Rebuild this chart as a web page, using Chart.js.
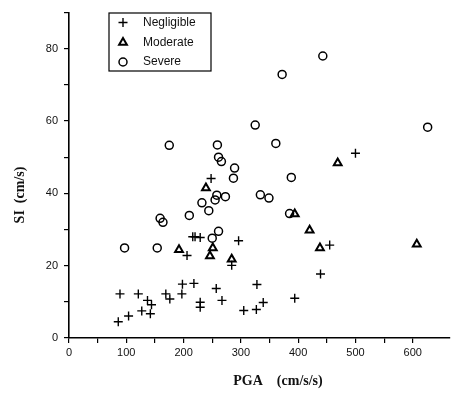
<!DOCTYPE html>
<html>
<head>
<meta charset="utf-8">
<script src="https://cdn.jsdelivr.net/npm/chart.js@4/dist/chart.umd.min.js"></script>
<style>
  html, body { margin: 0; padding: 0; background: #fff; }
  #wrap { width: 460px; height: 393px; }
</style>
</head>
<body>
<div id="wrap"><canvas id="siChart" width="460" height="393"></canvas></div>
<script>
// damage classes
const seriesNames = ['Negligible', 'Moderate', 'Severe'];

// PGA (cm/s/s) and SI (cm/s)
const negligiblePGA = [86, 89, 104, 121, 127, 137, 142, 144, 169, 176, 197, 198, 206, 216, 218, 220, 229, 229, 229, 248, 257, 267, 284, 296, 305, 327, 328, 339, 394, 439, 455, 500];
const negligibleSI  = [4.5, 12.2, 6.1, 12.2, 7.5, 10.4, 6.7, 9.2, 12.2, 10.8, 12.2, 14.9, 22.8, 28.0, 15.1, 28.0, 27.8, 9.9, 8.5, 44.1, 13.7, 10.4, 20.1, 26.9, 7.6, 7.9, 14.8, 9.8, 11.0, 17.7, 25.7, 51.1];

const moderatePGA = [192, 239, 246, 251, 284, 394, 420, 438, 469, 607];
const moderateSI  = [24.4, 41.5, 22.7, 24.9, 21.8, 34.3, 29.8, 24.9, 48.4, 25.9];

const severePGA = [97, 154, 159, 164, 175, 210, 232, 244, 250, 255, 258, 273, 259, 261, 266, 261, 289, 287, 325, 334, 349, 361, 372, 385, 388, 443, 626];
const severeSI  = [24.9, 24.9, 33.1, 32.0, 53.3, 33.9, 37.4, 35.2, 27.6, 38.2, 39.5, 39.1, 53.4, 50.0, 48.8, 29.5, 47.0, 44.2, 58.9, 39.6, 38.7, 53.8, 72.9, 34.4, 44.4, 78.0, 58.3];

// axes
const xMin = 0, xMax = 665, xStep = 50, xLabelEvery = 100;
const yMin = 0, yMax = 90, yStep = 10, yLabelEvery = 20;
const xTitle = 'PGA    (cm/s/s)';
const yTitle = 'SI  (cm/s)';

function toPoints(xs, ys) {
    return xs.map((x, i) => ({ x: x, y: ys[i] }));
}

const styles = [
    { pointStyle: 'cross', pointRadius: 4.5, borderWidth: 1.4 },
    { pointStyle: 'triangle', pointRadius: 4.5, borderWidth: 2 },
    { pointStyle: 'circle', pointRadius: 4, borderWidth: 1.5 }
];

const datasets = [
    toPoints(negligiblePGA, negligibleSI),
    toPoints(moderatePGA, moderateSI),
    toPoints(severePGA, severeSI)
].map((pts, i) => ({
    label: seriesNames[i],
    data: pts,
    pointStyle: styles[i].pointStyle,
    pointRadius: styles[i].pointRadius,
    pointHoverRadius: styles[i].pointRadius,
    borderWidth: styles[i].borderWidth,
    borderColor: '#000',
    backgroundColor: 'rgba(0,0,0,0)'
}));

// boxed legend in the upper left and the serif axis titles
const paperExtras = {
    id: 'paperExtras',
    afterDraw(chart) {
        const ctx = chart.ctx;
        const area = chart.chartArea;
        ctx.save();

        // legend
        const bx = area.left + 40, by = 13, bw = 102, bh = 58;
        ctx.strokeStyle = '#000';
        ctx.lineWidth = 1.2;
        ctx.strokeRect(bx, by, bw, bh);
        ctx.font = '12px "Liberation Sans", Arial, sans-serif';
        ctx.fillStyle = '#111';
        ctx.textBaseline = 'middle';
        ctx.textAlign = 'left';
        const rows = [22.5, 42.5, 62];
        seriesNames.forEach((name, i) => {
            ctx.lineWidth = styles[i].borderWidth;
            ctx.strokeStyle = '#000';
            ctx.fillStyle = 'rgba(0,0,0,0)';
            Chart.helpers.drawPoint(ctx, {
                pointStyle: styles[i].pointStyle,
                radius: styles[i].pointRadius,
                rotation: 0,
                borderWidth: styles[i].borderWidth
            }, bx + 14, rows[i]);
            ctx.fillStyle = '#111';
            ctx.fillText(name, bx + 34, rows[i]);
        });

        // axis titles
        ctx.fillStyle = '#111';
        ctx.font = 'bold 14px "Liberation Serif", "Times New Roman", serif';
        ctx.textAlign = 'center';
        ctx.textBaseline = 'middle';
        ctx.fillText(xTitle, 278, 381);
        ctx.translate(20, 195);
        ctx.rotate(-Math.PI / 2);
        ctx.fillText(yTitle, 0, 0);
        ctx.restore();
    }
};

const tickFont = { family: '"Liberation Sans", Arial, sans-serif', size: 11 };

new Chart(document.getElementById('siChart'), {
    type: 'scatter',
    data: { datasets: datasets },
    plugins: [paperExtras],
    options: {
        responsive: false,
        animation: false,
        devicePixelRatio: 1,
        layout: { padding: { left: 0, right: 10, top: 8, bottom: 0 } },
        plugins: { legend: { display: false }, tooltip: { enabled: false } },
        scales: {
            x: {
                type: 'linear',
                min: xMin,
                max: xMax,
                afterBuildTicks: (scale) => { scale.ticks = scale.ticks.filter(t => t.value % xStep === 0); },
                afterFit: (scale) => { scale.height = 55; },
                ticks: {
                    stepSize: xStep,
                    color: '#111',
                    font: tickFont,
                    padding: 3,
                    maxRotation: 0,
                    autoSkip: false,
                    callback: (v) => v % xLabelEvery === 0 ? String(v) : ''
                },
                grid: { display: true, drawOnChartArea: false, drawTicks: true, tickLength: 5, color: '#000', lineWidth: 1.2 },
                border: { display: true, color: '#000', width: 1.6 }
            },
            y: {
                type: 'linear',
                min: yMin,
                max: yMax,
                afterFit: (scale) => { scale.width = 69; },
                ticks: {
                    stepSize: yStep,
                    color: '#111',
                    font: tickFont,
                    padding: 6,
                    autoSkip: false,
                    callback: (v) => v % yLabelEvery === 0 ? String(v) : ''
                },
                grid: { display: true, drawOnChartArea: false, drawTicks: true, tickLength: 5, color: '#000', lineWidth: 1.2 },
                border: { display: true, color: '#000', width: 1.6 }
            }
        }
    }
});
</script>
</body>
</html>
